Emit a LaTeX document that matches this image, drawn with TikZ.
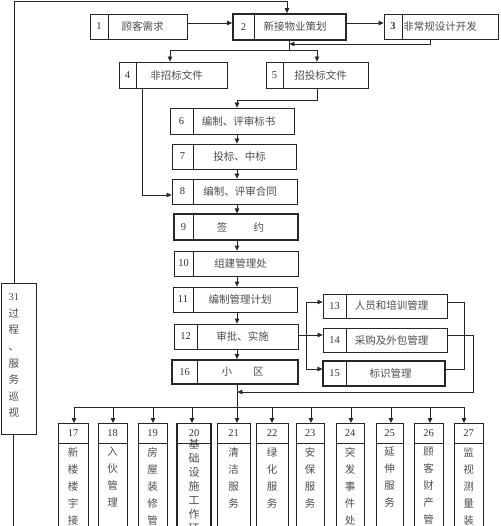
\documentclass[tikz,border=0pt]{standalone}
\usepackage{fontspec}
\setmainfont{Liberation Serif}
\newfontfamily\cjk{Noto Sans CJK SC}
\usetikzlibrary{arrows.meta}
\tikzset{
  box/.style={draw=black!85, line width=0.8pt, inner sep=0pt},
  thickbox/.style={line width=1.8pt},
  midbox/.style={line width=1.1pt},
  numtxt/.style={font=\fontsize{10.5}{12}\selectfont, text=black!80, inner sep=0pt},
  cjktxt/.style={font=\cjk\fontsize{10.5}{12}\selectfont, text=black!70, inner sep=0pt},
  conn/.style={draw=black!85, line width=0.8pt},
  arr/.style={conn, -{Triangle[length=5pt,width=4.5pt]}},
  vtxt/.style={font=\cjk\fontsize{10.5}{17}\selectfont, text=black!70, align=center, inner sep=0pt, anchor=north},
}
% name, x1, y1, x2, y2, divider x, number, text, style
\newcommand{\procbox}[9]{%
  \node[box,minimum width={#4-#2},minimum height={#5-#3},#9] (#1) at ({(#2+#4)/2},{(#3+#5)/2}) {};
  \draw[conn] (#6,#3) -- (#6,#5);
  \node[numtxt] (#1n) at ({(#2+#6)/2},{(#3+#5)/2}) {#7};
  \node[cjktxt,xshift=-5pt] (#1t) at ({(#6+#4)/2},{(#3+#5)/2}) {#8};
}
% name, x1, x2, number, text lines, box style, text style
\newcommand{\svcbox}[7]{%
  \node[box,minimum width={#3-#2},minimum height=130,anchor=north,#6] (#1) at ({(#2+#3)/2},423) {};
  \draw[conn] (#2,443) -- (#3,443);
  \node[numtxt] (#1n) at ({(#2+#3)/2},433) {#4};
  \node[vtxt,#7] (#1t) at ({(#2+#3)/2},447) {#5};
}
\begin{document}
\begin{tikzpicture}[x=1pt,y=-1pt]
\useasboundingbox (0,0) rectangle (500,526);
\clip (0,0) rectangle (500,526);

\procbox{b1}{90}{14}{187}{39}{108}{1}{顾客需求}{}
\procbox{b2}{233}{14}{346}{40}{254}{2}{新接物业策划}{thickbox}
\procbox{b3}{384}{14}{498}{39}{402}{\textbf{3}}{非常规设计开发\hspace*{10pt}}{}
\procbox{b4}{119}{62}{227}{88}{136}{4}{非招标文件}{}
\procbox{b5}{266}{62}{368}{88}{283}{5}{招投标文件}{}
\procbox{b6}{170}{108}{294}{134}{193}{6}{编制、评审标书}{}
\procbox{b7}{172}{144}{296}{169}{193}{7}{投标、中标}{}
\procbox{b8}{172}{179}{297}{204}{193}{8}{编制、评审合同}{}
\procbox{b9}{174}{214}{298}{240}{193}{9}{签\hspace{2.5em}约}{midbox}
\procbox{b10}{174}{251}{298}{276}{193}{10}{组建管理处}{}
\procbox{b11}{173}{287}{297}{312}{193}{11}{编制管理计划}{}
\procbox{b12}{174}{324}{298}{349}{197}{12}{审批、实施}{}
\procbox{b16}{172}{360}{298}{384}{197}{16}{小\hspace{2em}区}{thickbox}
\procbox{b13}{323}{294}{447}{318}{346}{13}{人员和培训管理}{}
\procbox{b14}{323}{328}{447}{352}{346}{14}{采购及外包管理}{}
\procbox{b15}{323}{361}{445}{386}{346}{15}{标识管理}{midbox}

\svcbox{b17}{58}{88}{17}{新\\楼\\楼\\宇\\接}{}{}
\svcbox{b18}{98}{127}{18}{入\\伙\\管\\理}{}{}
\svcbox{b19}{138}{167}{19}{房\\屋\\装\\修\\管}{}{}
\svcbox{b20}{177}{211}{20}{基\\础\\设\\施\\工\\作\\环}{line width=1.3pt}{font=\cjk\fontsize{11}{14}\selectfont, yshift=7.5pt}
\svcbox{b21}{217}{250}{21}{清\\洁\\服\\务}{}{}
\svcbox{b22}{256}{288}{22}{绿\\化\\服\\务}{}{}
\svcbox{b23}{296}{324}{23}{安\\保\\服\\务}{}{}
\svcbox{b24}{336}{364}{24}{突\\发\\事\\件\\处}{}{}
\svcbox{b25}{376}{403}{25}{延\\伸\\服\\务}{}{}
\svcbox{b26}{414}{443}{26}{顾\\客\\财\\产\\管}{}{}
\svcbox{b27}{454}{483}{27}{监\\视\\测\\量\\装}{}{}

\node[box,minimum width=35,minimum height=151] (b31) at (18.5,358.5) {};
\node[vtxt,font=\cjk\fontsize{10.5}{16.6}\selectfont] (b31t) at (14,293.5) {{\rmfamily 31}\\过\\程\\、\\服\\务\\巡\\视};

% frame from 31 back to 2
\coordinate (f1) at (14,1);
\coordinate (f2) at (287,1);
\draw[arr] (b31.north -| f1) -- (f1) -- (f2) -- (b2.north -| f2);
\coordinate (e31) at (13,530);
\draw[conn] (b31.south -| e31) -- (e31);

% top row
\coordinate (r1) at (0,23);
\draw[arr] (b1.east |- r1) -- (b2.west |- r1);
\draw[arr] (b2.east |- r1) -- (b3.west |- r1);
\coordinate (c3) at (430,44);
\coordinate (c2) at (289,50);
\draw[arr] (b3.south -| c3) -- (c3) -- ([xshift=0.4pt]c3 -| c2);
\draw[conn] (b2.south -| c2) -- (c2);
\coordinate (s4) at (170,50);
\coordinate (s5) at (317,50);
\draw[arr] (c2) -- (s4) -- (b4.north -| s4);
\draw[arr] (c2) -- (s5) -- (b5.north -| s5);

% 4 -> 8, 5 -> 6
\coordinate (ax) at (237,0);
\coordinate (d4) at (142,195);
\draw[arr] (b4.south -| d4) -- (d4) -- (d4 -| b8.west);
\coordinate (d5) at (317,100);
\draw[arr] (b5.south -| d5) -- (d5) -- (d5 -| ax) -- (b6.north -| ax);

% main chain
\foreach \a/\b in {b6/b7,b7/b8,b8/b9,b9/b10,b10/b11,b11/b12,b12/b16}
  \draw[arr] (\a.south -| ax) -- (\b.north -| ax);

% 12 -> 13,14,15
\coordinate (j) at (306,335);
\coordinate (j13) at (306,302);
\coordinate (j15) at (306,369);
\draw[conn] (b12.east |- j) -- (j);
\draw[conn] (j13) -- (j15);
\draw[arr] (j13) -- (j13 -| b13.west);
\draw[arr] (j) -- (j -| b14.west);
\draw[arr] (j15) -- (j15 -| b15.west);

% right side
\coordinate (k13) at (464,302);
\coordinate (k15) at (464,369);
\draw[conn] (b13.east |- k13) -- (k13) -- (k15) -- (b15.east |- k15);
\coordinate (k14) at (473,335);
\coordinate (k16) at (473,392);
\draw[arr] (b14.east |- k14) -- (k14) -- (k16) -- ([xshift=0.4pt]k16 -| ax);

% bus to 17..27
\coordinate (bus) at (237,407);
\draw[conn] (b16.south -| ax) -- (bus);
\coordinate (busL) at (74,407);
\coordinate (busR) at (464,407);
\draw[conn] (busL) -- (busR);
\foreach \n/\x in {17/74,18/113,19/153,20/192,21/237,22/272,23/311,24/351,25/391,26/430,27/464}{
  \coordinate (a\n) at (\x,407);
  \draw[arr] (a\n) -- (b\n.north -| a\n);
}
\end{tikzpicture}
\end{document}
